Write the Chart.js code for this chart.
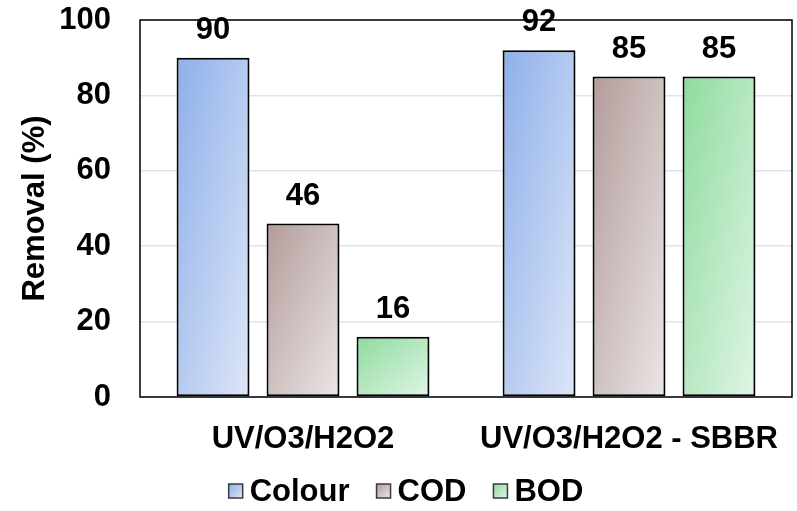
<!DOCTYPE html>
<html>
<head>
<meta charset="utf-8">
<script src="https://cdn.jsdelivr.net/npm/chart.js@4"></script>
<style>
  html, body { margin: 0; padding: 0; background: #fff; }
  #wrap { width: 797px; height: 511px; }
</style>
</head>
<body>
<div id="wrap"><canvas id="removal_chart"></canvas></div>
<script>
const categories = ["UV/O3/H2O2", "UV/O3/H2O2 - SBBR"]
const seriesNames = ["Colour", "COD", "BOD"]
const colourValues = [90, 92]
const codValues = [46, 85]
const bodValues = [16, 85]
const yTicks = [0, 20, 40, 60, 80, 100]

// gradient stops per series: top-left dark -> bottom-right light
const gradStops = [
  ["#8eafea", "#dde6f7"],
  ["#b29c9a", "#ebe6e6"],
  ["#8edb9e", "#e0f5e5"]
]

const FONT = "Arial, 'Liberation Sans', sans-serif"

// diagonal gradient scaled to the box (top-left -> bottom-right corner)
function box_gradient(ctx, left, top, w, h, stops){
  let k = 2 * w * h / (w * w + h * h)
  let g = ctx.createLinearGradient(left, top, left + h * k, top + w * k)
  g.addColorStop(0, stops[0])
  g.addColorStop(1, stops[1])
  return g
}

const gradientBars = {
  id: "gradientBars",
  beforeDatasetsDraw(chart){
    const ctx = chart.ctx
    chart.data.datasets.forEach((ds, i) => {
      chart.getDatasetMeta(i).data.forEach(el => {
        const p = el.getProps(["x", "y", "width", "base"], true)
        // options are shared between bars of a dataset, so give each bar its own copy
        el.options = Object.assign({}, el.options, {
          backgroundColor: box_gradient(ctx, p.x - p.width / 2, p.y, p.width, p.base - p.y, gradStops[i])
        })
      })
    })
  },
  beforeDatasetDraw(chart){
    const ctx = chart.ctx
    ctx.save()
    ctx.shadowColor = "rgba(0,0,0,0.22)"
    ctx.shadowBlur = 4
    ctx.shadowOffsetX = 2
    ctx.shadowOffsetY = 2
  },
  afterDatasetDraw(chart){
    chart.ctx.restore()
  }
}

// value labels, frame round the plot, legend below
const extras = {
  id: "extras",
  afterDatasetsDraw(chart){
    const ctx = chart.ctx
    ctx.save()
    ctx.font = "bold 31px " + FONT
    ctx.fillStyle = "#000"
    ctx.textAlign = "center"
    ctx.textBaseline = "alphabetic"
    chart.data.datasets.forEach((ds, i) => {
      chart.getDatasetMeta(i).data.forEach((el, j) => {
        ctx.fillText(ds.data[j], el.x, el.y - 19)
      })
    })
    const a = chart.chartArea
    ctx.strokeStyle = "#000"
    ctx.lineWidth = 1.5
    ctx.strokeRect(a.left, a.top, a.right - a.left, a.bottom - a.top)
    ctx.restore()
  },
  afterDraw(chart){
    const ctx = chart.ctx
    ctx.save()
    ctx.font = "bold 31px " + FONT
    const box = 14, gap = 7, itemGap = 27
    let widths = seriesNames.map(n => ctx.measureText(n).width)
    let total = widths.reduce((s, w) => s + w + box + gap, 0) + itemGap * (seriesNames.length - 1)
    let x = 406 - total / 2
    const cy = 491
    seriesNames.forEach((name, i) => {
      ctx.fillStyle = box_gradient(ctx, x, cy - box / 2, box, box, gradStops[i])
      ctx.fillRect(x, cy - box / 2, box, box)
      ctx.strokeStyle = "#3a3a3a"
      ctx.lineWidth = 1.5
      ctx.strokeRect(x, cy - box / 2, box, box)
      ctx.fillStyle = "#000"
      ctx.textBaseline = "middle"
      ctx.textAlign = "left"
      ctx.fillText(name, x + box + gap, cy + 1)
      x += box + gap + widths[i] + itemGap
    })
    ctx.restore()
  }
}

const allValues = [colourValues, codValues, bodValues]

new Chart(document.getElementById("removal_chart"), {
  type: "bar",
  data: {
    labels: categories,
    datasets: seriesNames.map((name, i) => ({
      label: name,
      data: allValues[i],
      backgroundColor: gradStops[i][0],
      borderColor: "#000",
      borderWidth: 2,
      borderSkipped: false,
      barPercentage: 0.81,
      categoryPercentage: 0.828
    }))
  },
  options: {
    responsive: true,
    maintainAspectRatio: false,
    animation: false,
    layout: { padding: { left: 17, right: 5, top: 20, bottom: 57 } },
    scales: {
      x: {
        grid: { display: false },
        border: { display: false },
        afterFit: scale => {
          scale.height = 57
          scale.paddingLeft = 0
          scale.paddingRight = 0
        },
        ticks: {
          color: "#000",
          padding: 16,
          font: { family: FONT, size: 31, weight: "bold" }
        }
      },
      y: {
        min: 0,
        max: 100,
        afterBuildTicks: axis => { axis.ticks = yTicks.map(v => ({ value: v })) },
        afterFit: scale => {
          scale.width = 123
          scale.paddingTop = 0
          scale.paddingBottom = 0
        },
        grid: { color: "#dbe5f1", lineWidth: 1.5, drawTicks: false },
        border: { display: false },
        ticks: {
          color: "#000",
          padding: 29,
          font: { family: FONT, size: 31, weight: "bold" }
        },
        title: {
          display: true,
          text: "Removal (%)",
          color: "#000",
          padding: { top: 0, bottom: 5 },
          font: { family: FONT, size: 31, weight: "bold" }
        }
      }
    },
    plugins: {
      tooltip: { enabled: false },
      legend: { display: false }
    }
  },
  plugins: [gradientBars, extras]
})
</script>
</body>
</html>
